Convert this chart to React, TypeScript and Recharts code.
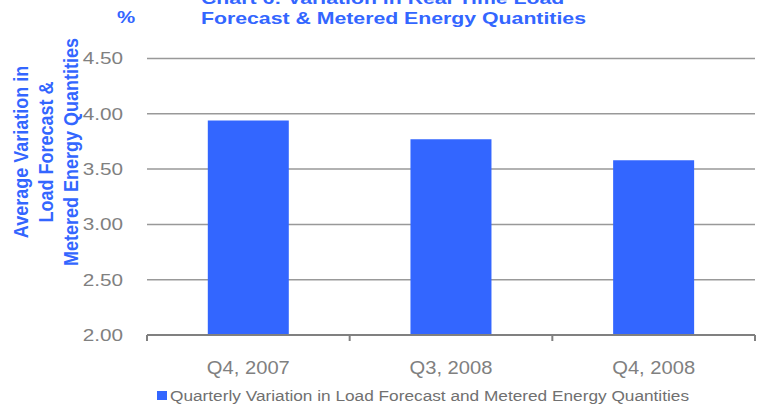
import React from 'react';
import { BarChart, Bar, XAxis, YAxis, CartesianGrid, Legend, Label } from 'recharts';

// Quarterly data
const quarters = ['Q4, 2007', 'Q3, 2008', 'Q4, 2008'];
const variation = [3.94, 3.77, 3.58];
const yTicks = [2.0, 2.5, 3.0, 3.5, 4.0, 4.5];
const seriesName = 'Quarterly Variation in Load Forecast and Metered Energy Quantities';
const titleLines = ['Chart 6: Variation in Real Time Load', 'Forecast & Metered Energy Quantities'];
const yLabelLines = ['Average Variation in', 'Load Forecast &', 'Metered Energy Quantities'];
const unitLabel = '%';

const data = quarters.map((q, i) => ({ quarter: q, value: variation[i] }));

const BLUE = '#3366FF';
const GREY = '#808080';
const FONT = '"Liberation Sans", Arial, Helvetica, sans-serif';

const W = 764;
const H = 410;

const XTick = (props: any) => {
  const { x, y, payload, index, width, visibleTicksCount } = props;
  const count = visibleTicksCount || quarters.length;
  const band = (typeof width === 'number' ? width : 608) / count;
  const left = x - band / 2;
  const right = x + band / 2;
  return (
    <g>
      <line x1={left} x2={left} y1={y} y2={y + 6} stroke={GREY} strokeWidth={2} />
      {index === count - 1 && (
        <line x1={right} x2={right} y1={y} y2={y + 6} stroke={GREY} strokeWidth={2} />
      )}
      <text
        transform={`translate(${x},${y + 39}) scale(1.12,1)`}
        textAnchor="middle"
        fontSize={18}
        fontFamily={FONT}
        fill={GREY}
      >
        {payload.value}
      </text>
    </g>
  );
};

const YTick = (props: any) => {
  const { x, y, payload } = props;
  return (
    <text
      transform={`translate(${x},${y}) scale(1.22,1)`}
      textAnchor="end"
      dy="0.35em"
      fontSize={17}
      fontFamily={FONT}
      fill={GREY}
    >
      {Number(payload.value).toFixed(2)}
    </text>
  );
};

const YTitle = () => {
  const baselines = [27.5, 52.5, 77.5];
  const cy = 152;
  return (
    <g>
      {yLabelLines.map((line, i) => (
        <text
          key={line}
          transform={`translate(${baselines[i]},${cy}) scale(1.12,1) rotate(-90)`}
          textAnchor="middle"
          fontSize={18}
          fontWeight="bold"
          fontFamily={FONT}
          fill={BLUE}
        >
          {line}
        </text>
      ))}
    </g>
  );
};

const LegendBox = () => (
  <svg width={W} height={20} style={{ display: 'block' }}>
    <rect x={157} y={3} width={10} height={9} fill={BLUE} />
    <text
      transform="translate(170,13) scale(1.19,1)"
      fontSize={14.5}
      fontFamily={FONT}
      fill="#707070"
    >
      {seriesName}
    </text>
  </svg>
);

export default function App() {
  return (
    <div style={{ position: 'absolute', left: 0, top: 0, width: W, height: H, overflow: 'hidden', background: '#fff' }}>
      <BarChart
        width={W}
        height={H}
        data={data}
        margin={{ top: 58.5, right: 9, bottom: 2, left: 0 }}
        barCategoryGap="30%"
      >
        <CartesianGrid vertical={false} stroke="#999999" strokeWidth={1.5} />
        <XAxis
          dataKey="quarter"
          height={53}
          interval={0}
          axisLine={{ stroke: GREY, strokeWidth: 2 }}
          tickLine={false}
          tickSize={0}
          tickMargin={0}
          tick={<XTick />}
        />
        <YAxis
          width={147}
          domain={[2, 4.5]}
          ticks={yTicks}
          allowDataOverflow
          axisLine={false}
          tickLine={false}
          tickSize={0}
          tickMargin={24}
          tick={<YTick />}
        >
          <Label content={<YTitle />} />
        </YAxis>
        <Legend
          verticalAlign="bottom"
          align="left"
          height={20}
          wrapperStyle={{ left: 0, width: W, bottom: 2 }}
          content={<LegendBox />}
        />
        <Bar dataKey="value" name={seriesName} fill={BLUE} isAnimationActive={false} />
      </BarChart>

      <div
        style={{
          position: 'absolute',
          left: 117,
          top: 8,
          fontFamily: FONT,
          fontWeight: 'bold',
          fontSize: 17,
          lineHeight: '20px',
          color: BLUE,
          transform: 'scaleX(1.2)',
          transformOrigin: 'left top',
        }}
      >
        {unitLabel}
      </div>
      <div
        style={{
          position: 'absolute',
          left: 201,
          top: -11,
          fontFamily: FONT,
          fontWeight: 'bold',
          fontSize: 17,
          lineHeight: '20px',
          color: BLUE,
          whiteSpace: 'nowrap',
          transform: 'scaleX(1.25)',
          transformOrigin: 'left top',
        }}
      >
        {titleLines.map((t) => (
          <div key={t}>{t}</div>
        ))}
      </div>
    </div>
  );
}
